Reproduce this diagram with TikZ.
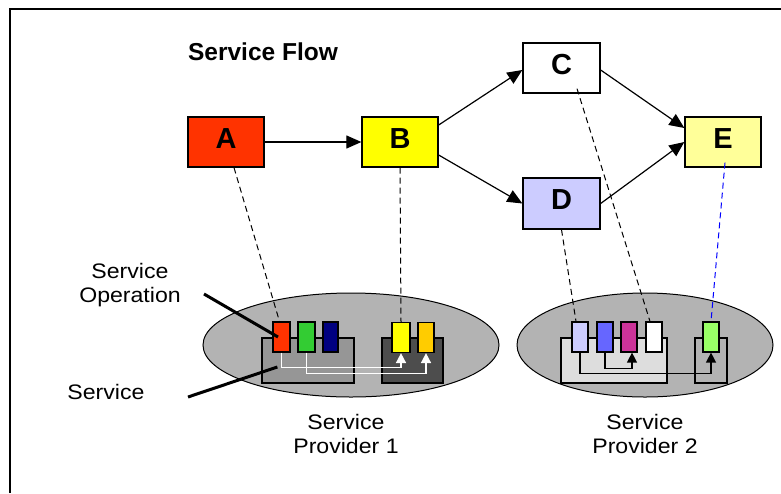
\documentclass[tikz,border=0pt]{standalone}
\usepackage{fontspec}
\setmainfont{Liberation Sans}
\newfontfamily\labelfont[FakeStretch=1.1]{Liberation Sans}
\usetikzlibrary{arrows.meta,shapes.geometric}

\definecolor{cA}{HTML}{FF3300}
\definecolor{cB}{HTML}{FFFF00}
\definecolor{cD}{HTML}{CCCCFF}
\definecolor{cE}{HTML}{FFFF99}
\definecolor{ellgrey}{HTML}{B3B3B3}
\definecolor{svcmid}{HTML}{969696}
\definecolor{svcdark}{HTML}{4D4D4D}
\definecolor{svclight}{HTML}{DDDDDD}
\definecolor{opgreen}{HTML}{33CC33}
\definecolor{opnavy}{HTML}{000080}
\definecolor{oporange}{HTML}{FFCC00}
\definecolor{opblue}{HTML}{6666FF}
\definecolor{opmagenta}{HTML}{CC3399}
\definecolor{oplime}{HTML}{99FF66}

\tikzset{
  flowbox/.style={draw=black, line width=1.3pt, minimum width=76pt, minimum height=50pt,
    inner sep=0pt, text height=20pt, text depth=8pt,
    font=\fontsize{29}{32}\selectfont\bfseries},
  provider/.style={ellipse, draw=black, line width=1pt, fill=ellgrey, inner sep=0pt,
    minimum height=104pt},
  svcbox/.style={draw=black, line width=1.3pt, minimum height=45pt, inner sep=0pt},
  opbox/.style={draw=black, line width=1.2pt, minimum height=30pt, minimum width=16pt, inner sep=0pt},
  flowarrow/.style={line width=1.2pt, -{Triangle[length=15pt,width=13pt]}},
  mapline/.style={line width=1pt, dash pattern=on 6pt off 4pt},
  whitelink/.style={draw=white, line width=1.6pt, -{Triangle[length=10pt,width=10pt,fill=white]}},
  blacklink/.style={draw=black, line width=1.3pt, -{Triangle[length=10pt,width=10pt]}},
  pointer/.style={line width=3pt},
  lbl/.style={font=\labelfont\fontsize{21}{24}\selectfont, align=center, inner sep=0pt},
}

\begin{document}
\begin{tikzpicture}[x=1pt,y=-1pt]
\useasboundingbox (0,0) rectangle (781,493);

% outer frame (left and top edges)
\coordinate (fbl) at (10,493);
\coordinate (ftl) at (10,9);
\coordinate (ftr) at (781,9);
\draw[line width=2.6pt] (fbl) -- (ftl) -- (ftr);

% title
\node[font=\fontsize{24.5}{28}\selectfont\bfseries, inner sep=0pt] (title) at (263,52) {Service Flow};

% flow boxes
\node[flowbox, fill=cA] (A) at (226,142) {A};
\node[flowbox, fill=cB] (B) at (400,142) {B};
\node[flowbox, fill=white, minimum width=77pt] (C) at (561.5,68) {C};
\node[flowbox, fill=cD, minimum width=77pt, minimum height=51pt] (D) at (561.5,203.5) {D};
\node[flowbox, fill=cE] (E) at (723,142) {E};

% flow arrows
\draw[flowarrow] (A.east) -- (B.west);
\draw[flowarrow] ([yshift=17pt]B.east) -- ([yshift=-2pt]C.west);
\draw[flowarrow] ([yshift=-13pt]B.east) -- (D.west);
\draw[flowarrow] ([yshift=-2pt]C.east) -- ([yshift=14pt]E.west);
\draw[flowarrow] (D.east) -- (E.west);

% providers
\node[provider, minimum width=296pt] (P1) at (351,345) {};
\node[provider, minimum width=256pt] (P2) at (645,345) {};

% services
\node[svcbox, fill=svcmid, minimum width=92pt] (s1) at (308,360.5) {};
\node[svcbox, fill=svcdark, minimum width=61pt] (s2) at (412.5,360.5) {};
\node[svcbox, fill=svclight, minimum width=106pt] (s3) at (614,360.5) {};
\node[svcbox, fill=ellgrey, minimum width=32pt] (s4) at (711,360.5) {};

% operations
\node[opbox, fill=cA, minimum width=17pt] (o1) at (281.5,337) {};
\node[opbox, fill=opgreen, minimum width=17pt] (o2) at (306.5,337) {};
\node[opbox, fill=opnavy, minimum width=15pt] (o3) at (330.5,337) {};
\node[opbox, fill=cB, minimum width=18pt] (o4) at (401,337.5) {};
\node[opbox, fill=oporange] (o5) at (426,337.5) {};
\node[opbox, fill=cD] (o6) at (580,337) {};
\node[opbox, fill=opblue] (o7) at (605,337) {};
\node[opbox, fill=opmagenta] (o8) at (629,337) {};
\node[opbox, fill=white] (o9) at (654,337) {};
\node[opbox, fill=oplime] (o10) at (711,337) {};

% links between operations
\draw[whitelink] (o1.south) -- ++(0,15) -| (o4.south);
\draw[whitelink] (o2.south) -- ++(0,21) -| (o5.south);
\draw[blacklink] (o7.south) -- ++(0,16) -| ([xshift=3pt]o8.south);
\draw[blacklink] (o6.south) -- ++(0,21) -| (o10.south);

% mapping of flow steps to operations
\draw[mapline] ([xshift=8pt]A.south) -- ([xshift=-2pt]o1.north);
\draw[mapline] (B.south) -- (o4.north);
\draw[mapline] ([xshift=15.5pt,yshift=5pt]C.south) -- ([xshift=-4pt]o9.north);
\draw[mapline] (D.south) -- ([xshift=-4pt]o6.north);
\draw[mapline, draw=blue] ([xshift=2pt,yshift=5pt]E.south) -- (o10.north);

% labels and pointers
\node[lbl] (lop) at (130,285) {Service\\Operation};
\node[lbl] (lsvc) at (106,392) {Service};
\node[lbl] (lp1) at (346,434) {Service\\Provider 1};
\node[lbl] (lp2) at (645,434) {Service\\Provider 2};

\coordinate (pop) at (204,294);
\coordinate (psvc) at (188,397);
\draw[pointer] (pop) -- ([xshift=-3.5pt]o1.center);
\draw[pointer] (psvc) -- ([xshift=16pt,yshift=-6.5pt]s1.west);
\end{tikzpicture}
\end{document}
